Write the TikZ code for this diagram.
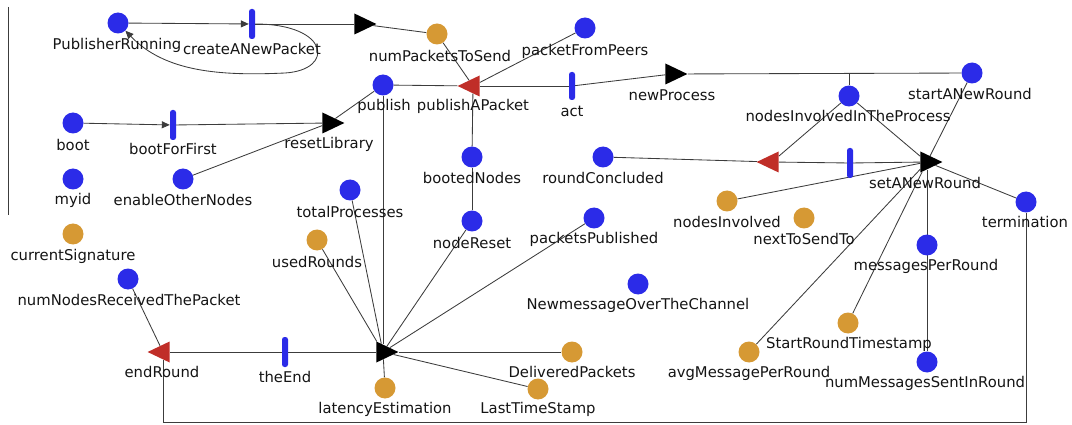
\documentclass[tikz,border=0pt]{standalone}
\usepackage{fontspec}
\setmainfont{DejaVu Sans}
\usetikzlibrary{shapes.geometric,arrows.meta,backgrounds}
\definecolor{placeblue}{RGB}{43,43,232}
\definecolor{placeorange}{RGB}{214,153,52}
\definecolor{trred}{RGB}{192,46,40}
\definecolor{arcgray}{RGB}{60,60,60}
\definecolor{lbltext}{RGB}{20,20,20}
\begin{document}
\begin{tikzpicture}[x=1pt,y=-1pt,
  place/.style={circle,fill=placeblue,minimum size=21pt,inner sep=0pt},
  datum/.style={circle,fill=placeorange,minimum size=21pt,inner sep=0pt},
  tbar/.style={rectangle,rounded corners=2.5pt,fill=placeblue,minimum width=6pt,minimum height=30pt,inner sep=0pt},
  sendtr/.style={isosceles triangle,isosceles triangle stretches,minimum width=21pt,minimum height=22pt,inner sep=0pt,fill=black},
  recvtr/.style={sendtr,fill=trred,shape border rotate=180},
  lbl/.style={font=\fontsize{14.8}{17}\selectfont,text=lbltext,inner sep=0pt},
  arc/.style={draw=arcgray,line width=0.85pt},
  tip/.style={-{Triangle[length=8pt,width=7pt]}}]
\useasboundingbox (0,0) rectangle (1072,425);

% stray frame line on the left
\draw[arcgray,line width=0.9pt] (8,7) -- (8,215);

% ---- places, transitions and their labels ----
\node[place] (PR) at (118,23) {};
\node[lbl] (PRl) at (117,45) {PublisherRunning};
\node[tbar] (cANP) at (252,24) {};
\node[lbl] (cANPl) at (252,49) {createANewPacket};
\node[sendtr] (tT) at (361,24) {};
\node[datum] (nPTS) at (437,34) {};
\node[lbl] (nPTSl) at (440,56) {numPacketsToSend};
\node[place] (pFP) at (585,28) {};
\node[lbl] (pFPl) at (585,51) {packetFromPeers};
\node[place] (pub) at (383,85) {};
\node[lbl] (publ) at (384,106) {publish};
\node[recvtr] (pAP) at (473,86) {};
\node[lbl] (pAPl) at (473,106) {publishAPacket};
\node[tbar,minimum height=28pt] (act) at (572,86) {};
\node[lbl] (actl) at (572,111) {act};
\node[sendtr] (nP) at (672,74) {};
\node[lbl] (nPl) at (672,95) {newProcess};
\node[place] (sANR) at (972,73) {};
\node[lbl] (sANRl) at (970,94) {startANewRound};
\node[place] (nIITP) at (849,96) {};
\node[lbl] (nIITPl) at (848,116) {nodesInvolvedInTheProcess};
\node[recvtr] (rT) at (772,162) {};
\node[tbar] (mB) at (850,163) {};
\node[sendtr] (sANRt) at (927,162) {};
\node[lbl] (sANRtl) at (925,183) {setANewRound};
\node[place] (rC) at (603,157) {};
\node[lbl] (rCl) at (603,178) {roundConcluded};
\node[place] (bN) at (472,157) {};
\node[lbl] (bNl) at (472,178) {bootedNodes};
\node[place] (nR) at (472,221) {};
\node[lbl] (nRl) at (472,243) {nodeReset};
\node[place] (pP) at (594,218) {};
\node[lbl] (pPl) at (594,239) {packetsPublished};
\node[place] (NMOC) at (638,284) {};
\node[lbl] (NMOCl) at (638,305) {NewmessageOverTheChannel};
\node[datum] (nI) at (727,201) {};
\node[lbl] (nIl) at (727,222) {nodesInvolved};
\node[datum] (nTST) at (804,218) {};
\node[lbl] (nTSTl) at (804,239) {nextToSendTo};
\node[place] (term) at (1026,202) {};
\node[lbl] (terml) at (1025,222) {termination};
\node[place] (mPR) at (927,245) {};
\node[lbl] (mPRl) at (926,266) {messagesPerRound};
\node[datum] (SRT) at (848,323) {};
\node[lbl] (SRTl) at (849,344) {StartRoundTimestamp};
\node[datum] (aMPR) at (749,352) {};
\node[lbl] (aMPRl) at (749,373) {avgMessagePerRound};
\node[place] (nMSIR) at (927,362) {};
\node[lbl] (nMSIRl) at (925,383) {numMessagesSentInRound};
\node[place] (boot) at (73,123) {};
\node[lbl] (bootl) at (73,145) {boot};
\node[tbar] (bFF) at (173,125) {};
\node[lbl] (bFFl) at (173,149) {bootForFirst};
\node[sendtr] (rL) at (329,123) {};
\node[lbl] (rLl) at (329,144) {resetLibrary};
\node[place] (myid) at (73,179) {};
\node[lbl] (myidl) at (73,200) {myid};
\node[place] (eON) at (183,179) {};
\node[lbl] (eONl) at (183,200) {enableOtherNodes};
\node[place] (tP) at (350,190) {};
\node[lbl] (tPl) at (350,212) {totalProcesses};
\node[datum] (uR) at (317,240) {};
\node[lbl] (uRl) at (317,262) {usedRounds};
\node[datum] (cS) at (73,234) {};
\node[lbl] (cSl) at (73,256) {currentSignature};
\node[place] (nNRTP) at (128,279) {};
\node[lbl] (nNRTPl) at (129,300) {numNodesReceivedThePacket};
\node[recvtr] (eR) at (163,352) {};
\node[lbl] (eRl) at (162,372) {endRound};
\node[tbar] (tE) at (285,352) {};
\node[lbl] (tEl) at (285,377) {theEnd};
\node[sendtr] (eT) at (383,352) {};
\node[datum] (lE) at (385,388) {};
\node[lbl] (lEl) at (385,409) {latencyEstimation};
\node[datum] (DP) at (572,352) {};
\node[lbl] (DPl) at (572,372) {DeliveredPackets};
\node[datum] (LTS) at (538,389) {};
\node[lbl] (LTSl) at (538,409) {LastTimeStamp};

\coordinate (branch) at (849,74);
\coordinate (bottom) at (0,422);

% ---- arcs ----
\begin{scope}[on background layer]
  \draw[arc,tip] (PR) -- (cANP);
  \draw[arc] (cANP) -- (tT);
  \draw[arc] (tT) -- (nPTS);
  \draw[arc,tip] (cANP.east) .. controls (330,24) and (335,70) .. (285,73)
        .. controls (220,76) and (165,72) .. (PR);
  \draw[arc] (nPTS) -- (pAP);
  \draw[arc] (pFP) -- (pAP);
  \draw[arc] (pub) -- (pAP);
  \draw[arc] (pAP) -- (act);
  \draw[arc] (act) -- (nP);
  \draw[arc] (nP) -- (sANR);
  \draw[arc] (branch) -- (nIITP);
  \draw[arc] (pAP) -- (bN);
  \draw[arc] (bN) -- (nR);
  \draw[arc] (nR) -- (eT);
  \draw[arc] (pub) -- (eT);
  \draw[arc] (tP) -- (eT);
  \draw[arc] (uR) -- (eT);
  \draw[arc] (pP) -- (eT);
  \draw[arc] (eT) -- (DP);
  \draw[arc] (eT) -- (LTS);
  \draw[arc] (eT) -- (lE);
  \draw[arc] (eT) -- (tE);
  \draw[arc] (tE) -- (eR);
  \draw[arc] (nNRTP) -- (eR);
  \draw[arc] (term) -- (term |- bottom) -- (eR |- bottom) -- (eR);
  \draw[arc] (sANRt) -- (term);
  \draw[arc] (sANRt) -- (nMSIR);
  \draw[arc] (sANRt) -- (aMPR);
  \draw[arc] (sANRt) -- (SRT);
  \draw[arc] (sANR) -- (sANRt);
  \draw[arc] (nIITP) -- (sANRt);
  \draw[arc] (nIITP) -- (rT);
  \draw[arc] (rC) -- (rT);
  \draw[arc] (rT) -- (mB);
  \draw[arc] (mB) -- (sANRt);
  \draw[arc] (nI) -- (sANRt);
  \draw[arc,tip] (boot) -- (bFF);
  \draw[arc] (bFF) -- (rL);
  \draw[arc] (eON) -- (rL);
  \draw[arc] (rL) -- (pub);
\end{scope}
\end{tikzpicture}
\end{document}
